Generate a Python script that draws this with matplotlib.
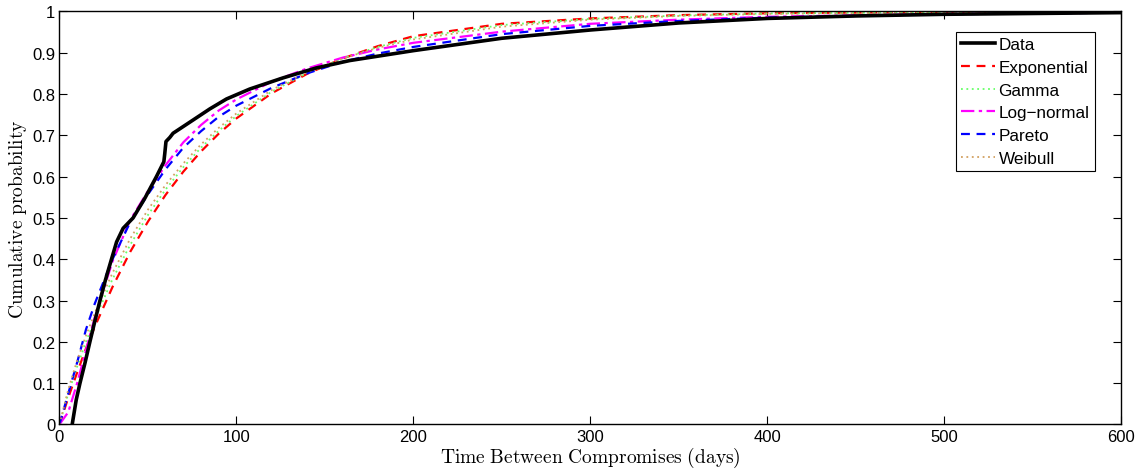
import matplotlib
matplotlib.use("Agg")
import matplotlib.pyplot as plt

plt.rcParams['mathtext.fontset'] = 'cm'
plt.rcParams['font.family'] = ['Liberation Sans', 'DejaVu Sans']

# ---- data ----
data_days = [7.2, 9.5, 11.6, 14.5, 17.2, 20, 22.9, 26, 29.4, 32.3, 36, 41.6, 48.3,
             54.8, 59.0, 59.5, 60.2, 62.4, 64.2, 75.5, 85, 94.4, 107.5, 126.3, 145, 164,
             200, 250, 300, 350, 400, 450, 500, 550, 600]
data_p = [0.0, 0.06, 0.10, 0.15, 0.20, 0.25, 0.30, 0.35, 0.40, 0.442, 0.475, 0.50, 0.548,
          0.60, 0.636, 0.655, 0.685, 0.695, 0.705, 0.737, 0.764, 0.788, 0.812, 0.839, 0.863, 0.881,
          0.905, 0.935, 0.955, 0.972, 0.983, 0.989, 0.993, 0.995, 0.997]

fit_days = [0, 5, 10, 15, 20, 30, 40, 50, 60, 70, 80, 90, 100, 120, 140, 160, 180,
            200, 250, 300, 350, 400, 500, 600]
exponential = [0.0, 0.065, 0.126, 0.184, 0.237, 0.333, 0.418, 0.491, 0.556, 0.612, 0.661,
               0.704, 0.741, 0.802, 0.849, 0.886, 0.916, 0.940, 0.970, 0.983, 0.991,
               0.9955, 0.9988, 0.9997]
gamma = [0.0, 0.075, 0.14, 0.20, 0.255, 0.352, 0.435, 0.507, 0.569, 0.623, 0.67, 0.711,
         0.747, 0.806, 0.851, 0.886, 0.914, 0.936, 0.967, 0.982, 0.99, 0.995, 0.9985, 0.9996]
lognormal = [0.0, 0.03, 0.10, 0.18, 0.26, 0.395, 0.495, 0.565, 0.628, 0.683, 0.725, 0.76,
             0.787, 0.83, 0.862, 0.888, 0.908, 0.924, 0.951, 0.97, 0.98, 0.987, 0.994, 0.997]
pareto = [0.0, 0.075, 0.15, 0.23, 0.293, 0.40, 0.49, 0.557, 0.618, 0.67, 0.71, 0.745,
          0.772, 0.815, 0.85, 0.878, 0.898, 0.914, 0.945, 0.965, 0.977, 0.985, 0.993, 0.997]
weibull = [0.0, 0.085, 0.155, 0.215, 0.27, 0.367, 0.45, 0.52, 0.58, 0.632, 0.678, 0.718,
           0.753, 0.81, 0.853, 0.886, 0.912, 0.932, 0.963, 0.98, 0.989, 0.994, 0.998, 0.9995]

x_ticks = [0, 100, 200, 300, 400, 500, 600]
y_ticks = [0, 0.1, 0.2, 0.3, 0.4, 0.5, 0.6, 0.7, 0.8, 0.9, 1]
y_tick_labels = ['0', '0.1', '0.2', '0.3', '0.4', '0.5', '0.6', '0.7', '0.8', '0.9', '1']

fig = plt.figure(figsize=(11.43, 4.77), dpi=100)
ax = fig.add_axes([0.052, 0.108, 0.929, 0.866])

ax.plot(data_days, data_p, color='black', lw=2.6, ls='-', label='Data', zorder=5)
ax.plot(fit_days, exponential, color='red', lw=1.6, ls=(0, (4, 3)), label='Exponential')
ax.plot(fit_days, gamma, color='#66ff66', lw=1.3, ls=(0, (1, 2)), label='Gamma')
ax.plot(fit_days, lognormal, color='magenta', lw=1.6, ls=(0, (6, 2, 1.5, 2)), label='Log\u2212normal')
ax.plot(fit_days, pareto, color='blue', lw=1.6, ls=(0, (4, 3)), label='Pareto')
ax.plot(fit_days, weibull, color='#d2a060', lw=1.3, ls=(0, (1, 2)), label='Weibull')

ax.set_xlim(0, 600)
ax.set_ylim(0, 1)
ax.set_xticks(x_ticks)
ax.set_xticklabels([str(v) for v in x_ticks])
ax.set_yticks(y_ticks)
ax.set_yticklabels(y_tick_labels)
ax.tick_params(direction='in', top=True, right=True, length=6, width=0.8,
               labelsize=12, pad=3)
for s in ax.spines.values():
    s.set_linewidth(1.0)

ax.set_xlabel(r'$\mathrm{Time\ Between\ Compromises\ (days)}$', fontsize=14, labelpad=1)
ax.set_ylabel(r'$\mathrm{Cumulative\ probability}$', fontsize=14, labelpad=2)

leg = ax.legend(loc='upper right', bbox_to_anchor=(0.975, 0.95), fontsize=12.3,
                frameon=True, fancybox=False, edgecolor='black', framealpha=1,
                handlelength=2.0, handletextpad=0.2, labelspacing=0.45,
                borderpad=0.3, borderaxespad=0.0)
leg.get_frame().set_linewidth(0.8)

fig.savefig('out.png', dpi=100)
